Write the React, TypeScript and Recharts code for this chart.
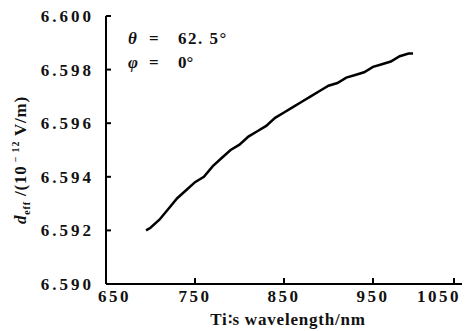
import React from 'react';
import { LineChart, Line, XAxis, YAxis, Customized } from 'recharts';

const wavelengths = [695, 700, 710, 720, 730, 740, 750, 760, 770, 780, 790, 800, 810, 820, 830, 840, 850, 860, 870, 880, 890, 900, 910, 920, 930, 940, 950, 960, 970, 980, 990, 995];
const deff = [6.5920, 6.5921, 6.5924, 6.5928, 6.5932, 6.5935, 6.5938, 6.5940, 6.5944, 6.5947, 6.5950, 6.5952, 6.5955, 6.5957, 6.5959, 6.5962, 6.5964, 6.5966, 6.5968, 6.5970, 6.5972, 6.5974, 6.5975, 6.5977, 6.5978, 6.5979, 6.5981, 6.5982, 6.5983, 6.5985, 6.5986, 6.5986];
const xTicks = [650, 750, 850, 950, 1050];
const yTicks = [6.590, 6.592, 6.594, 6.596, 6.598, 6.600];

const data = wavelengths.map((w, i) => ({ w, d: deff[i] }));

const FONT = '"Liberation Serif", "DejaVu Serif", serif';

const XTick = (props: any) => {
  const { x, y, payload } = props;
  const v = payload.value;
  // end labels sit inside the frame like the printed figure
  let anchor: 'start' | 'middle' | 'end' = 'middle';
  let tx = x;
  if (v === 650) { anchor = 'start'; tx = x - 8; }
  if (v === 1050) { anchor = 'end'; tx = x + 7; }
  return (
    <g>
      <line x1={x} y1={y} x2={x} y2={y - 6} stroke="#000" strokeWidth={2} />
      <text x={tx} y={y + 18} textAnchor={anchor} fontFamily={FONT} fontSize={17} fontWeight="bold" letterSpacing={2.5} fill="#111">
        {v}
      </text>
    </g>
  );
};

const YTick = (props: any) => {
  const { x, y, payload } = props;
  return (
    <g>
      <line x1={x} y1={y} x2={x + 5} y2={y} stroke="#000" strokeWidth={2} />
      <text x={x - 12} y={y + 6} textAnchor="end" fontFamily={FONT} fontSize={17} fontWeight="bold" letterSpacing={3} fill="#111">
        {Number(payload.value).toFixed(3)}
      </text>
    </g>
  );
};

const Texts = () => (
  <g fontFamily={FONT} fill="#111" style={{ whiteSpace: 'pre' }}>
    <text transform="translate(26,160) rotate(-90)" textAnchor="middle" fontSize={17} fontWeight="bold" letterSpacing={0.8}>
      <tspan fontStyle="italic">d</tspan>
      <tspan fontSize={10} dy={4}>eff</tspan>
      <tspan dy={-4}> /(10</tspan>
      <tspan fontSize={10} dy={-7}> − 12</tspan>
      <tspan dy={7}>  V/m)</tspan>
    </text>
    <text y={44} fontSize={17} fontWeight="bold">
      <tspan x={128} fontStyle="italic">θ</tspan>
      <tspan x={149}>=</tspan>
      <tspan x={178} letterSpacing={1.5}>62. 5°</tspan>
    </text>
    <text y={68} fontSize={17} fontWeight="bold">
      <tspan x={128} fontStyle="italic">φ</tspan>
      <tspan x={149}>=</tspan>
      <tspan x={178}>0°</tspan>
    </text>
    <text x={288} y={325} textAnchor="middle" fontSize={17} fontWeight="bold" letterSpacing={0.8}>
      Ti∶s wavelength/nm
    </text>
  </g>
);

export default function App() {
  return (
    <div style={{ position: 'absolute', left: 0, top: 0, width: 470, height: 331, background: '#fff' }}>
      <LineChart width={470} height={331} data={data} margin={{ top: 16, right: 8, bottom: 0, left: 0 }}>
        <XAxis
          dataKey="w"
          type="number"
          domain={[650, 1050]}
          ticks={xTicks}
          tickSize={0}
          tickMargin={0}
          tick={<XTick />}
          height={47}
          axisLine={{ stroke: '#000', strokeWidth: 2 }}
          tickLine={false}
        />
        <YAxis
          type="number"
          domain={[6.59, 6.6]}
          ticks={yTicks}
          tickSize={0}
          tickMargin={0}
          tick={<YTick />}
          width={106}
          axisLine={{ stroke: '#000', strokeWidth: 2 }}
          tickLine={false}
        />
        <Line
          dataKey="d"
          type="linear"
          stroke="#000"
          strokeWidth={2.5}
          dot={false}
          isAnimationActive={false}
        />
        <Customized component={Texts} />
      </LineChart>
    </div>
  );
}
